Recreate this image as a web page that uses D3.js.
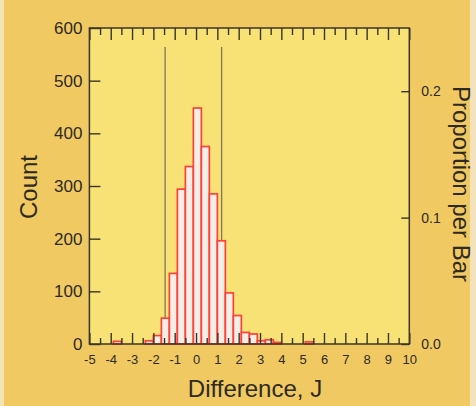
<!DOCTYPE html>
<html>
<head>
<meta charset="utf-8">
<script src="https://cdn.jsdelivr.net/npm/d3@7"></script>
<style>
  html, body { margin: 0; padding: 0; background: #f0c963; }
  svg { display: block; }
  text { font-family: "Liberation Sans", Arial, Helvetica, sans-serif; fill: #2f2a1f; }
</style>
</head>
<body>
<svg id="chart" width="476" height="406"></svg>
<script>
// ---- data ----
const binWidth = 0.375;
const binLo  = [-3.875, -2.375, -2.0, -1.625, -1.25, -0.875, -0.5, -0.125, 0.25, 0.625, 1.0, 1.375, 1.75, 2.125, 2.5, 2.875, 3.25, 3.625, 5.125];
const counts = [5, 6, 16, 49, 134, 294, 337, 448, 375, 285, 196, 97, 54, 22, 19, 6, 8, 3, 4];
const totalN = 2400;
const refLines = [-1.45, 1.2];
const refLineTop = 564;
const xTicks = [-5,-4,-3,-2,-1,0,1,2,3,4,5,6,7,8,9,10];
const xMinorTicks = [-4.5,-3.5,-2.5,-1.5,-0.5,0.5,1.5,2.5,3.5,4.5,5.5,6.5,7.5,8.5,9.5];
const yTicks = [0,100,200,300,400,500,600];
const propTicks = [0.0, 0.1, 0.2];

// ---- layout ----
const L = 89.4, R = 409.3, T = 28, B = 344;
const svg = d3.select("#chart");
const ink = "#3a3427";

const x = d3.scaleLinear().domain([-5, 10]).range([L, R]);
const y = d3.scaleLinear().domain([0, 600]).range([B, T]);
const yProp = d3.scaleLinear().domain([0, 600 / totalN]).range([B, T]);

// background with scan-edge tint
svg.append("rect").attr("x", 0).attr("y", 0).attr("width", 476).attr("height", 406).attr("fill", "#f0c963");
svg.append("rect").attr("x", 0).attr("y", 0).attr("width", 4).attr("height", 406).attr("fill", "#f5e3b8");
svg.append("rect").attr("x", 470).attr("y", 0).attr("width", 6).attr("height", 406).attr("fill", "#f4e2bc");

// plot area
svg.append("rect").attr("x", L).attr("y", T).attr("width", R - L).attr("height", B - T).attr("fill", "#f8e276");

// reference lines
svg.append("g").selectAll("line").data(refLines).join("line")
  .attr("x1", d => x(d)).attr("x2", d => x(d))
  .attr("y1", y(refLineTop)).attr("y2", y(0))
  .attr("stroke", "#7f765c").attr("stroke-width", 1.3);

// bars
svg.append("g").selectAll("rect").data(binLo.map((lo, i) => ({lo, c: counts[i]}))).join("rect")
  .attr("x", d => x(d.lo))
  .attr("width", d => x(d.lo + binWidth) - x(d.lo))
  .attr("y", d => y(d.c))
  .attr("height", d => y(0) - y(d.c))
  .attr("fill", "#f4eee6")
  .attr("stroke", "#ff4038")
  .attr("stroke-width", 1.7);

// axes
function styleAxis(g) {
  g.select(".domain").remove();
  g.selectAll(".tick line").attr("stroke", ink).attr("stroke-width", 1.4);
}

svg.append("g").attr("transform", `translate(${L},0)`)
  .call(d3.axisLeft(y).tickValues(yTicks).tickSize(-11).tickPadding(7).tickFormat(d3.format("d")))
  .call(styleAxis)
  .call(g => g.selectAll("text").attr("font-size", 17).attr("fill", "#2f2a1f").attr("font-family", "Liberation Sans, Arial, sans-serif"));

svg.append("g").attr("transform", `translate(${R},0)`)
  .call(d3.axisRight(yProp).tickValues(propTicks).tickSize(-8).tickPadding(12).tickFormat(d3.format(".1f")))
  .call(styleAxis)
  .call(g => g.selectAll("text").attr("font-size", 14).attr("fill", "#2f2a1f").attr("font-family", "Liberation Sans, Arial, sans-serif"));

svg.append("g").attr("transform", `translate(0,${B})`)
  .call(d3.axisBottom(x).tickValues(xTicks).tickSize(-11).tickPadding(11).tickFormat(d => String(d)))
  .call(styleAxis)
  .call(g => g.selectAll("text").attr("font-size", 13).attr("fill", "#2f2a1f").attr("font-family", "Liberation Sans, Arial, sans-serif"));

svg.append("g").attr("transform", `translate(0,${B})`)
  .call(d3.axisBottom(x).tickValues(xMinorTicks).tickSize(-6).tickFormat(""))
  .call(styleAxis);

svg.append("g").attr("transform", `translate(0,${T})`)
  .call(d3.axisTop(x).tickValues(xTicks).tickSize(-12).tickFormat(""))
  .call(styleAxis);

svg.append("g").attr("transform", `translate(0,${T})`)
  .call(d3.axisTop(x).tickValues(xMinorTicks).tickSize(-7).tickFormat(""))
  .call(styleAxis);

// frame
svg.append("rect").attr("x", L).attr("y", T).attr("width", R - L).attr("height", B - T)
  .attr("fill", "none").attr("stroke", ink).attr("stroke-width", 1.5);

// titles
svg.append("text").attr("transform", "translate(28.7,187) rotate(-90)")
  .attr("text-anchor", "middle").attr("dy", "0.35em").attr("font-size", 24).text("Count");

svg.append("text").attr("transform", "translate(461,184) rotate(90)")
  .attr("text-anchor", "middle").attr("dy", "0.35em").attr("font-size", 24).text("Proportion per Bar");

svg.append("text").attr("x", 255).attr("y", 397)
  .attr("text-anchor", "middle").attr("font-size", 24).text("Difference, J");
</script>
</body>
</html>
